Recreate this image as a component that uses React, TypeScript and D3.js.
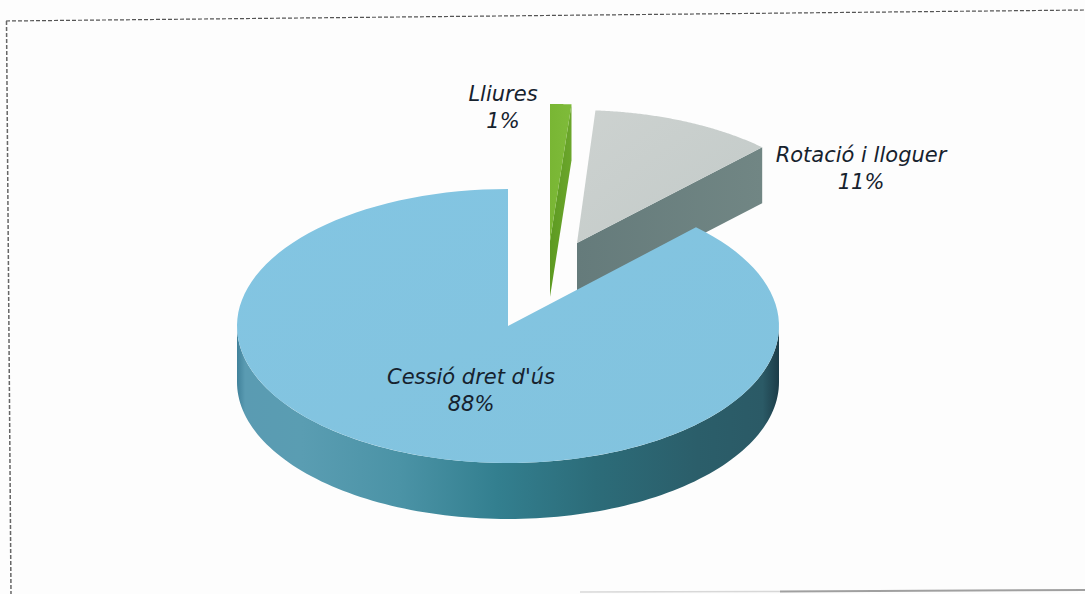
import React from "react";
import * as d3 from "d3";

// Data
const categories = ["Lliures", "Rotació i lloguer", "Cessió dret d'ús"];
const values = [1.1, 11.1, 87.8];
const percentLabels = ["1%", "11%", "88%"];

// Layout and styling
const WIDTH = 1085;
const HEIGHT = 594;
const CX = 508;
const CY = 326;
const RX = 271;
const RY = 137;
const DEPTH = 56;
const explode = [
  [42, -85],
  [69, -83],
  [0, 0],
];
const sliceScale = [
  [1.15, 1],
  [0.985, 0.97],
  [1, 1],
];
const labelAnchors = [
  [503, 101],
  [861, 162],
  [471, 384],
];
const topFills = ["url(#greenTop)", "url(#grayTop)", "url(#blueTop)"];
const cutFills = ["url(#greenSide)", "url(#graySide)", "none"];
const FONT = '"DejaVu Sans", Verdana, sans-serif';

const pie = d3.pie<number>().sort(null);
const arcs = pie(values);

const xScale = d3.scaleLinear().domain([-1, 1]).range([-RX, RX]);
const yScale = d3.scaleLinear().domain([-1, 1]).range([-RY, RY]);
const project = (i: number, a: number, dz = 0): [number, number] => [
  CX + explode[i][0] + sliceScale[i][0] * xScale(Math.sin(a)),
  CY + explode[i][1] + sliceScale[i][1] * yScale(-Math.cos(a)) + dz,
];
const apex = (i: number, dz = 0): [number, number] => [CX + explode[i][0], CY + explode[i][1] + dz];
const line = d3.line<[number, number]>();
const sample = (a0: number, a1: number, n = 120) =>
  d3.range(n + 1).map((k) => a0 + ((a1 - a0) * k) / n);

const topPath = (i: number) => {
  const { startAngle, endAngle } = arcs[i];
  const pts = sample(startAngle, endAngle).map((a) => project(i, a));
  return line([apex(i), ...pts]) + "Z";
};
const cutPath = (i: number) => {
  const a = arcs[i].endAngle;
  return line([apex(i), project(i, a), project(i, a, DEPTH), apex(i, DEPTH)]) + "Z";
};
const frontWall = (i: number) => {
  const angles = sample(Math.PI / 2, (3 * Math.PI) / 2);
  const up = angles.map((a) => project(i, a));
  const down = angles.map((a) => project(i, a, DEPTH)).reverse();
  return line([...up, ...down]) + "Z";
};

const wallStops: [number, string][] = [
  [0, "#40819a"],
  [0.015, "#5a9bb2"],
  [0.12, "#5a9db2"],
  [0.3, "#4b93a6"],
  [0.48, "#337f8f"],
  [0.66, "#2c6c79"],
  [0.85, "#2b5e6a"],
  [0.97, "#2b5a66"],
  [1, "#1c3c48"],
];

export default function App() {
  return (
    <svg
      width={WIDTH}
      height={HEIGHT}
      viewBox={`0 0 ${WIDTH} ${HEIGHT}`}
      style={{ position: "absolute", left: 0, top: 0, background: "#fdfdfd" }}
    >
      <defs>
        <linearGradient id="blueWall" gradientUnits="userSpaceOnUse" x1={CX - RX} x2={CX + RX} y1={0} y2={0}>
          {wallStops.map(([o, c]) => (
            <stop key={o} offset={o} stopColor={c} />
          ))}
        </linearGradient>
        <linearGradient id="blueTop" x1="0" x2="1" y1="0" y2="1">
          <stop offset="0" stopColor="#83c5e2" />
          <stop offset="1" stopColor="#82c3de" />
        </linearGradient>
        <linearGradient id="grayTop" x1="0" x2="1" y1="0" y2="1">
          <stop offset="0" stopColor="#cdd2d0" />
          <stop offset="1" stopColor="#c2cac8" />
        </linearGradient>
        <linearGradient id="graySide" x1="0" x2="1" y1="0" y2="0">
          <stop offset="0" stopColor="#657b7b" />
          <stop offset="1" stopColor="#718684" />
        </linearGradient>
        <linearGradient id="greenTop" x1="0" x2="1" y1="0" y2="0">
          <stop offset="0" stopColor="#79b634" />
          <stop offset="1" stopColor="#7fbb3a" />
        </linearGradient>
        <linearGradient id="greenSide" x1="0" x2="1" y1="0" y2="0">
          <stop offset="0" stopColor="#5d9a22" />
          <stop offset="1" stopColor="#6ba62b" />
        </linearGradient>
      </defs>

      {/* scanned dashed frame */}
      <g fill="none">
        <line x1={6} y1={21} x2={1085} y2={10} stroke="#555" strokeWidth={1.2} strokeDasharray="4 2" />
        <line x1={6.5} y1={21} x2={11} y2={594} stroke="#666" strokeWidth={1.5} strokeDasharray="4 2" />
        <line x1={580} y1={592} x2={780} y2={591.5} stroke="#d8d8d8" strokeWidth={1.5} />
        <line x1={780} y1={591.5} x2={1085} y2={590} stroke="#a0a0a0" strokeWidth={2} />
      </g>

      {categories.map((c, i) => (
        <g key={c}>
          {cutFills[i] !== "none" && <path d={cutPath(i)} fill={cutFills[i]} />}
          {i === 2 && <path d={frontWall(i)} fill="url(#blueWall)" />}
          <path d={topPath(i)} fill={topFills[i]} />
        </g>
      ))}

      {categories.map((c, i) => (
        <text
          key={c}
          x={labelAnchors[i][0]}
          y={labelAnchors[i][1]}
          textAnchor="middle"
          fontFamily={FONT}
          fontStyle="italic"
          fontSize={21}
          fill="#16222e"
        >
          <tspan x={labelAnchors[i][0]}>{c}</tspan>
          <tspan x={labelAnchors[i][0]} dy={27}>
            {percentLabels[i]}
          </tspan>
        </text>
      ))}
    </svg>
  );
}
